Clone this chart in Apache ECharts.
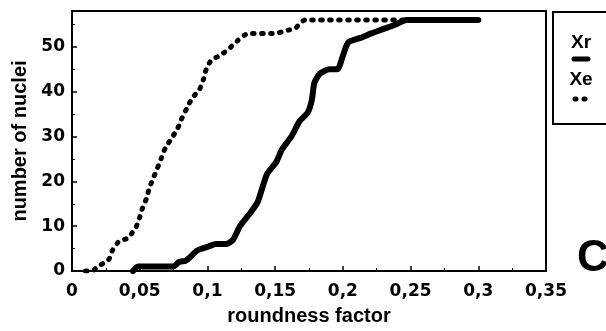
<!DOCTYPE html>
<html><head><meta charset="utf-8">
<script src="https://cdn.jsdelivr.net/npm/echarts@6/dist/echarts.min.js"></script>
<style>html,body{margin:0;padding:0;background:#fff}#c{width:606px;height:331px}</style>
</head><body><div id="c"></div>
<script>
var xTicks = [0, 0.05, 0.1, 0.15, 0.2, 0.25, 0.3, 0.35];
var yTicks = [0, 10, 20, 30, 40, 50];
var xeX = [0.010,0.015,0.019,0.027,0.030,0.035,0.041,0.047,0.050,0.052,0.055,0.057,0.060,0.063,0.066,0.069,0.074,0.078,0.081,0.085,0.089,0.094,0.097,0.099,0.103,0.109,0.116,0.122,0.130,0.150,0.158,0.165,0.172,0.300];
var xeY = [0,0,1,2.5,4.7,6.7,7.3,9.6,12,14,16.2,18.4,20.7,22.9,25.2,27.5,29.8,31.8,34,36.4,38.7,40.4,42.7,44.9,47.1,48,49.6,51.3,53,53,53.6,54.2,56,56];
var xrX = [0.045,0.049,0.075,0.079,0.084,0.087,0.092,0.096,0.102,0.106,0.114,0.119,0.124,0.131,0.137,0.141,0.144,0.151,0.155,0.162,0.168,0.174,0.177,0.179,0.183,0.190,0.196,0.200,0.204,0.213,0.221,0.230,0.239,0.247,0.300];
var xrY = [0,1,1,2,2.3,3,4.5,5,5.6,6,6,7,10,12.7,15.3,19,21.6,24.4,27.1,30,33.4,35.3,38,42,44,45,45,48,51,52,53,54,55,56,56];
var seriesNames = ['Xr', 'Xe'];
var panelLetter = 'C';

function pairs(xs, ys){ return xs.map(function(x,i){ return [x, ys[i]]; }); }
var tickFont = 'DejaVu Sans';
var titleFont = 'Liberation Sans';
var chart = echarts.init(document.getElementById('c'));
chart.setOption({
  animation: false,
  grid: {left: 72, right: 60, top: 11, bottom: 59, show: true, borderColor: '#000', borderWidth: 2, backgroundColor: 'transparent'},
  xAxis: {
    type: 'value', min: xTicks[0], max: xTicks[xTicks.length-1], interval: 0.05,
    name: 'roundness factor', nameLocation: 'middle', nameGap: 35,
    nameTextStyle: {fontFamily: titleFont, fontWeight: 'bold', fontSize: 20, color: '#000'},
    axisLine: {lineStyle: {color: '#000', width: 2}},
    axisTick: {inside: true, length: 5, lineStyle: {color: '#000', width: 1.5}},
    minorTick: {show: true, splitNumber: 2, length: 3, lineStyle: {color: '#000', width: 1}},
    splitLine: {show: false},
    axisLabel: {margin: 12, fontFamily: tickFont, fontWeight: 'bold', fontSize: 17, color: '#000',
      formatter: function(v){ return String(+v.toFixed(2)).replace('.', ','); }}
  },
  yAxis: {
    type: 'value', min: 0, max: 58, interval: 10,
    name: 'number of nuclei', nameLocation: 'middle', nameGap: 34,
    nameTextStyle: {fontFamily: titleFont, fontWeight: 'bold', fontSize: 20, color: '#000'},
    axisLine: {show: true, lineStyle: {color: '#000', width: 2}},
    axisTick: {inside: true, length: 5, lineStyle: {color: '#000', width: 1.5}},
    minorTick: {show: true, splitNumber: 2, length: 3, lineStyle: {color: '#000', width: 1}},
    splitLine: {show: false},
    axisLabel: {margin: 7, fontFamily: tickFont, fontWeight: 'bold', fontSize: 17, color: '#000',
      formatter: function(v){ return yTicks.indexOf(v) >= 0 ? String(v) : ''; }}
  },
  series: [
    {name: seriesNames[1], type: 'line', data: pairs(xeX, xeY), symbol: 'none', smooth: 0.2,
     lineStyle: {color: '#000', width: 5, type: [1.5, 7.5], cap: 'round', join: 'round'}},
    {name: seriesNames[0], type: 'line', data: pairs(xrX, xrY), symbol: 'none', smooth: 0.2,
     lineStyle: {color: '#000', width: 6, cap: 'round', join: 'round'}}
  ],
  graphic: [
    {type: 'rect', shape: {x: 553, y: 12, width: 60, height: 112}, style: {fill: '#fff', stroke: '#000', lineWidth: 2}},
    {type: 'text', x: 581, y: 43, style: {text: seriesNames[0], fontFamily: titleFont, fontWeight: 'bold', fontSize: 19, fill: '#000', align: 'center', verticalAlign: 'middle'}},
    {type: 'line', shape: {x1: 574, y1: 59, x2: 588, y2: 59}, style: {stroke: '#000', lineWidth: 5, lineCap: 'round'}},
    {type: 'text', x: 581, y: 80, style: {text: seriesNames[1], fontFamily: titleFont, fontWeight: 'bold', fontSize: 19, fill: '#000', align: 'center', verticalAlign: 'middle'}},
    {type: 'line', shape: {x1: 575, y1: 99, x2: 587, y2: 99}, style: {stroke: '#000', lineWidth: 5, lineCap: 'round', lineDash: [1, 8]}},
    {type: 'text', x: 577, y: 259, style: {text: panelLetter, fontFamily: titleFont, fontWeight: 'bold', fontSize: 44, fill: '#000', align: 'left', verticalAlign: 'middle'}}
  ]
});
</script></body></html>
